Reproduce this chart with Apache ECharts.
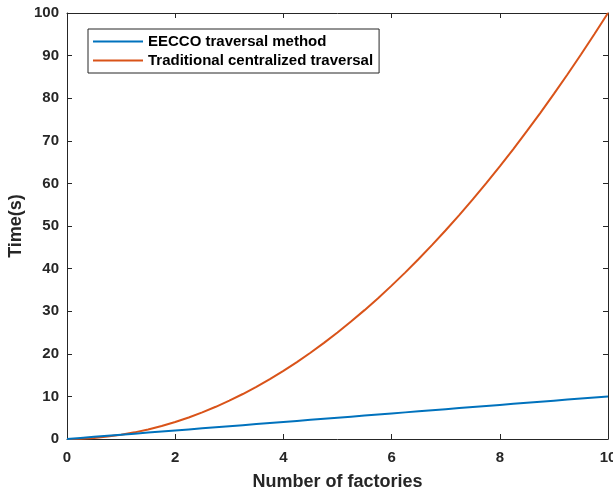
<!DOCTYPE html>
<html><head><meta charset="utf-8">
<script src="https://cdn.jsdelivr.net/npm/echarts@6/dist/echarts.min.js"></script>
<style>html,body{margin:0;padding:0;background:#fff}#c{width:613px;height:490px}</style>
</head><body><div id="c"></div>
<script>
var xValues = [0,0.25,0.5,0.75,1,1.25,1.5,1.75,2,2.25,2.5,2.75,3,3.25,3.5,3.75,4,4.25,4.5,4.75,5,5.25,5.5,5.75,6,6.25,6.5,6.75,7,7.25,7.5,7.75,8,8.25,8.5,8.75,9,9.25,9.5,9.75,10];
var eeccoValues = [0,0.25,0.5,0.75,1,1.25,1.5,1.75,2,2.25,2.5,2.75,3,3.25,3.5,3.75,4,4.25,4.5,4.75,5,5.25,5.5,5.75,6,6.25,6.5,6.75,7,7.25,7.5,7.75,8,8.25,8.5,8.75,9,9.25,9.5,9.75,10];
var traditionalValues = [0,0.06,0.25,0.56,1,1.56,2.25,3.06,4,5.06,6.25,7.56,9,10.56,12.25,14.06,16,18.06,20.25,22.56,25,27.56,30.25,33.06,36,39.06,42.25,45.56,49,52.56,56.25,60.06,64,68.06,72.25,76.56,81,85.56,90.25,95.06,100];
var xTicks = [0,2,4,6,8,10];
var yTicks = [0,10,20,30,40,50,60,70,80,90,100];
var seriesNames = ['EECCO traversal method','Traditional centralized traversal'];

function pairs(xs, ys){ return xs.map(function(x,i){return [x, ys[i]];}); }
var font = 'Liberation Sans, Arial, sans-serif';
var axisCol = '#262626';
var boxCol = '#262626';
function axisBase(extra){
  var a = {
    type:'value',
    axisLine:{show:true,onZero:false,lineStyle:{color:boxCol,width:1}},
    axisTick:{show:true,inside:true,length:5,lineStyle:{color:boxCol,width:1}},
    splitLine:{show:false},
    axisLabel:{show:true,color:axisCol,fontFamily:font,fontWeight:'bold',fontSize:15}
  };
  for (var k in extra) a[k]=extra[k];
  return a;
}
var chart = echarts.init(document.getElementById('c'));
chart.setOption({
  animation:false,
  backgroundColor:'#fff',
  grid:{left:67,right:5,top:13,bottom:51,containLabel:false,outerBoundsMode:'none'},
  legend:{
    orient:'vertical', left:88, top:29,
    data:seriesNames,
    itemWidth:50, itemHeight:2, itemGap:4,
    padding:[5,6,5,5],
    borderColor:boxCol, borderWidth:1, backgroundColor:'#fff',
    textStyle:{color:'#000',fontFamily:font,fontWeight:'bold',fontSize:15},
    icon:'rect'
  },
  xAxis:[
    axisBase({min:0,max:10,interval:2,position:'bottom',
      name:'Number of factories',nameLocation:'middle',nameGap:34,
      nameTextStyle:{color:axisCol,fontFamily:font,fontWeight:'bold',fontSize:18},
      axisLabel:{color:axisCol,fontFamily:font,fontWeight:'bold',fontSize:15,margin:11,
        formatter:function(v){return xTicks.indexOf(v)>=0?String(v):'';}}}),
    axisBase({min:0,max:10,interval:2,position:'top',axisLabel:{show:false}})
  ],
  yAxis:[
    axisBase({min:0,max:100,interval:10,position:'left',
      name:'Time(s)',nameLocation:'middle',nameGap:42,nameMoveOverlap:false,
      nameTextStyle:{color:axisCol,fontFamily:font,fontWeight:'bold',fontSize:18},
      axisLabel:{color:axisCol,fontFamily:font,fontWeight:'bold',fontSize:15,margin:8,
        formatter:function(v){return yTicks.indexOf(v)>=0?String(v):'';}}}),
    axisBase({min:0,max:100,interval:10,position:'right',axisLabel:{show:false}})
  ],
  series:[
    {name:seriesNames[0],type:'line',data:pairs(xValues,eeccoValues),showSymbol:false,
     lineStyle:{color:'#0072BD',width:2},itemStyle:{color:'#0072BD'},z:3},
    {name:seriesNames[1],type:'line',data:pairs(xValues,traditionalValues),showSymbol:false,
     lineStyle:{color:'#D95319',width:2},itemStyle:{color:'#D95319'},z:2}
  ]
});
</script></body></html>
